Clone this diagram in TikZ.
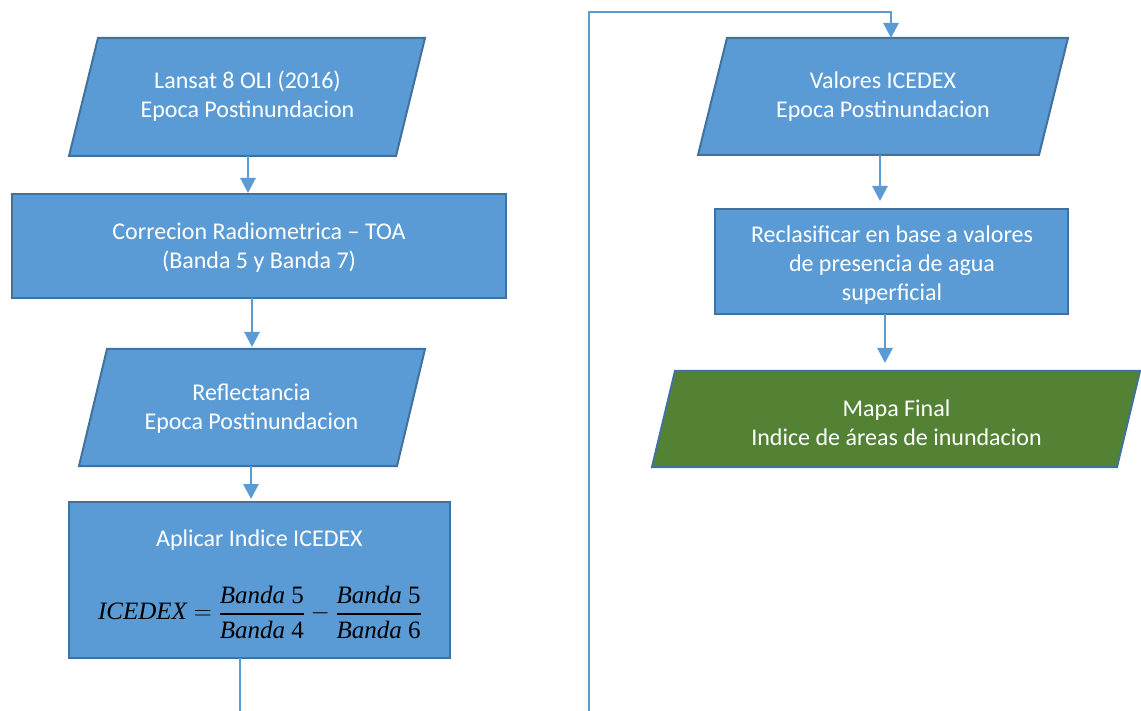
\documentclass[tikz,border=0pt]{standalone}
\usepackage{amsmath}
\usepackage{fontspec}
\setmainfont{Carlito}
\newfontfamily\formfont{Liberation Serif}
\usetikzlibrary{arrows.meta}

\definecolor{boxblue}{HTML}{5B9BD5}
\definecolor{edgeblue}{HTML}{41719C}
\definecolor{mapgreen}{HTML}{548235}

% italic word of the formula, followed by an upright digit
\newcommand\bandaterm[1]{\text{\formfont\itshape Banda\ }\text{\formfont #1}}
\newcommand\bandafrac[2]{\genfrac{}{}{2pt}{0}{\bandaterm{#1}}{\bandaterm{#2}}}

\tikzset{
  frame/.style={inner sep=0pt, outer sep=0pt},
  shapeline/.style={draw=edgeblue, line width=2pt, line join=miter},
  bluebox/.style={shapeline, fill=boxblue},
  greenbox/.style={shapeline, fill=mapgreen},
  boxtext/.style={text=white, align=center, inner sep=0pt,
    font=\fontsize{24}{29}\selectfont},
  flow/.style={draw=boxblue, line width=2.8pt,
    -{Triangle[width=15pt,length=15pt]}},
  wire/.style={draw=boxblue, line width=2.8pt},
}

\begin{document}
\begin{tikzpicture}[x=1pt,y=-1pt]
\useasboundingbox (0,0) rectangle (1141,711);

% ---------- left column ----------
\node[frame, minimum width=356pt, minimum height=118pt] (p1) at (247,97) {};
\draw[bluebox] ([xshift=29pt]p1.north west) -- (p1.north east)
  -- ([xshift=-29pt]p1.south east) -- (p1.south west) -- cycle;
\node[boxtext] (p1txt) at (247.5,96.5) {Lansat 8 OLI (2016)\\Epoca Postinundacion};

\node[frame, minimum width=494pt, minimum height=104pt] (r2) at (259,246) {};
\draw[bluebox] (r2.north west) rectangle (r2.south east);
\node[boxtext] (r2txt) at (259,248) {Correcion Radiometrica – TOA\\(Banda 5 y Banda 7)};

\node[frame, minimum width=346pt, minimum height=117pt] (p2) at (252,407.5) {};
\draw[bluebox] ([xshift=28pt]p2.north west) -- (p2.north east)
  -- ([xshift=-28pt]p2.south east) -- (p2.south west) -- cycle;
\node[boxtext] (p2txt) at (251.5,409) {Reflectancia\\Epoca Postinundacion};

\node[frame, minimum width=381pt, minimum height=156pt] (r4) at (259.5,580) {};
\draw[bluebox] (r4.north west) rectangle (r4.south east);
\node[boxtext] (r4txt) at (259.5,540) {Aplicar Indice ICEDEX};
\node[inner sep=0pt, font=\fontsize{25}{30}\selectfont] (formula) at (260,612)
  {$\text{\formfont\itshape ICEDEX}=\bandafrac{5}{4}-\bandafrac{5}{6}$};

% ---------- right column ----------
\node[frame, minimum width=370pt, minimum height=117pt] (p3) at (883,96.5) {};
\draw[bluebox] ([xshift=29pt]p3.north west) -- (p3.north east)
  -- ([xshift=-29pt]p3.south east) -- (p3.south west) -- cycle;
\node[boxtext] (p3txt) at (883,97) {Valores ICEDEX\\Epoca Postinundacion};

\node[frame, minimum width=353pt, minimum height=105pt] (r6) at (891.5,261.5) {};
\draw[bluebox] (r6.north west) rectangle (r6.south east);
\node[boxtext] (r6txt) at (892,265.5)
  {Reclasificar en base a valores\\de presencia de agua\\superficial};

\node[frame, minimum width=488pt, minimum height=96pt] (p4) at (896,419) {};
\draw[greenbox] ([xshift=23pt]p4.north west) -- (p4.north east)
  -- ([xshift=-23pt]p4.south east) -- (p4.south west) -- cycle;
\node[boxtext] (p4txt) at (896.5,422.5) {Mapa Final\\Indice de áreas de inundacion};

% ---------- connectors ----------
\coordinate (c1) at (248,0);
\coordinate (c2) at (252,0);
\coordinate (c3) at (251,0);
\coordinate (out) at (240,711);
\coordinate (in) at (589,711);
\coordinate (turn) at (891,12);
\coordinate (c5) at (880,0);
\coordinate (c6) at (885,0);

\draw[flow, shorten >=1pt] (c1 |- p1.south) -- (c1 |- r2.north);
\draw[flow, shorten >=2pt] (c2 |- r2.south) -- (c2 |- p2.north);
\draw[flow, shorten >=3pt] (c3 |- p2.south) -- (c3 |- r4.north);
\draw[wire] (out |- r4.south) -- (out);

\draw[flow] (in) |- (turn) -- (turn |- p3.north);
\draw[flow, shorten >=8pt] (c5 |- p3.south) -- (c5 |- r6.north);
\draw[flow, shorten >=8pt] (c6 |- r6.south) -- (c6 |- p4.north);
\end{tikzpicture}
\end{document}
